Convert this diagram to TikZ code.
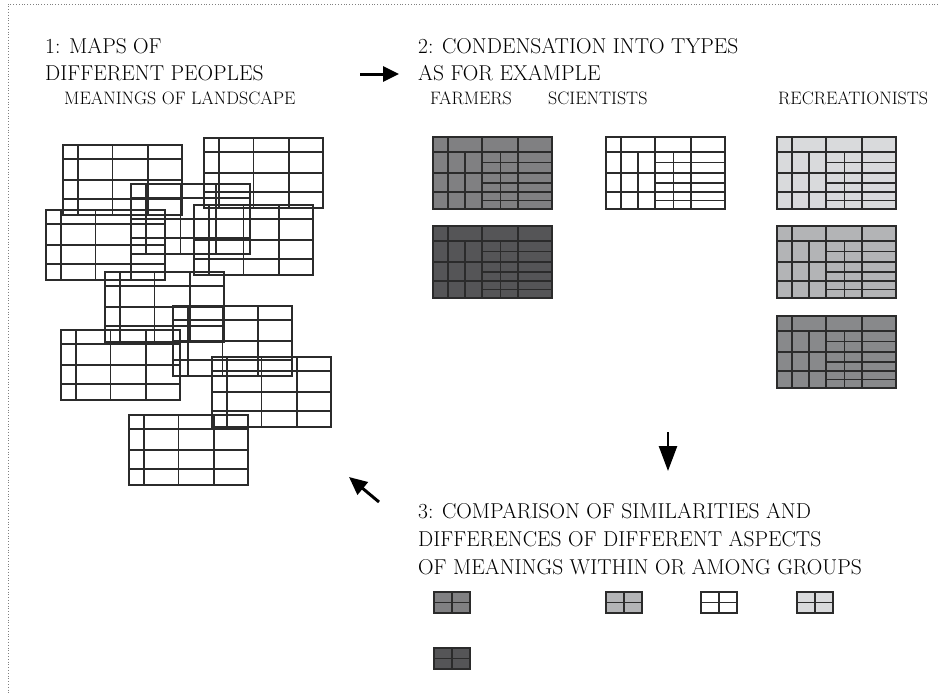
\documentclass[tikz,border=0pt]{standalone}
\usetikzlibrary{arrows.meta}

\definecolor{gridink}{HTML}{2B2B2B}
\definecolor{farmmid}{HTML}{808082}
\definecolor{farmdark}{HTML}{555557}
\definecolor{reclight}{HTML}{D9DADC}
\definecolor{recmid}{HTML}{B3B4B6}
\definecolor{recdark}{HTML}{88898B}

\tikzset{
  gridline/.style={draw=gridink, line width=1.2pt},
  heading/.style={anchor=base west, inner sep=0pt, font=\fontsize{21.5}{25}\selectfont},
  subheading/.style={anchor=base west, inner sep=0pt, font=\fontsize{18}{21}\selectfont},
  flow/.style={line width=3pt, -{Triangle[length=16pt,width=15pt]}},
  frame/.style={draw=gray, dotted, line width=0.8pt}
}

% one person's map of meanings (top left corner x, y)
\newcommand{\mapgrid}[2]{%
  \begin{scope}[shift={(#1,#2)}]
    \draw[gridline] (0,0) rectangle (119,70);
    \foreach \cx in {15,49.5,85} \draw[gridline] (\cx,0) -- (\cx,70);
    \foreach \ry in {14,35,54} \draw[gridline] (0,\ry) -- (119,\ry);
  \end{scope}}

% condensed type (top left corner x, y, fill colour)
\newcommand{\typegrid}[3]{%
  \begin{scope}[shift={(#1,#2)}]
    \fill[#3] (0,0) rectangle (119,72);
    \foreach \cx in {15,49,85} \draw[gridline] (\cx,0) -- (\cx,72);
    \foreach \cx in {32,67.5} \draw[gridline] (\cx,15) -- (\cx,72);
    \foreach \ry in {15,36,55} \draw[gridline] (0,\ry) -- (119,\ry);
    \foreach \ry in {25.5,46,63.5} \draw[gridline] (49,\ry) -- (119,\ry);
    \draw[gridline] (0,0) rectangle (119,72);
  \end{scope}}

% small aspect grid (top left corner x, y, fill colour)
\newcommand{\aspectgrid}[3]{%
  \begin{scope}[shift={(#1,#2)}]
    \fill[#3] (0,0) rectangle (36,21);
    \draw[gridline] (18,0) -- (18,21);
    \draw[gridline] (0,10.5) -- (36,10.5);
    \draw[gridline] (0,0) rectangle (36,21);
  \end{scope}}

\begin{document}
\begin{tikzpicture}[x=1pt, y=-1pt]
  \useasboundingbox (0,0) rectangle (938,694);

  % frame
  \coordinate (frametop) at (938,4);
  \coordinate (framecorner) at (8,4);
  \coordinate (framebottom) at (8,694);
  \draw[frame] (frametop) -- (framecorner) -- (framebottom);

  % headings
  \node[heading] (mapsa) at (45,53) {1: MAPS OF};
  \node[heading] (mapsb) at (45,80) {DIFFERENT PEOPLES};
  \node[subheading] (mapsc) at (64,104) {MEANINGS OF LANDSCAPE};
  \node[heading] (typesa) at (418,53) {2: CONDENSATION INTO TYPES};
  \node[heading] (typesb) at (418,80) {AS FOR EXAMPLE};
  \node[subheading] (farmers) at (430,104) {FARMERS};
  \node[subheading] (scientists) at (548,104) {SCIENTISTS};
  \node[subheading] (recreation) at (778,104) {RECREATIONISTS};
  \node[heading] (compa) at (418,518) {3: COMPARISON OF SIMILARITIES AND};
  \node[heading] (compb) at (418,546) {DIFFERENCES OF DIFFERENT ASPECTS};
  \node[heading] (compc) at (418,574) {OF MEANINGS WITHIN OR AMONG GROUPS};

  % individual maps
  \mapgrid{63}{145}
  \mapgrid{204}{138}
  \mapgrid{131}{184}
  \mapgrid{46}{210}
  \mapgrid{194}{205}
  \mapgrid{105}{272}
  \mapgrid{173}{306}
  \mapgrid{61}{330}
  \mapgrid{212}{357}
  \mapgrid{129}{415}

  % types
  \typegrid{433}{137}{farmmid}
  \typegrid{433}{226}{farmdark}
  \typegrid{606}{137}{white}
  \typegrid{777}{137}{reclight}
  \typegrid{777}{226}{recmid}
  \typegrid{777}{316}{recdark}

  % aspects
  \aspectgrid{434}{592}{farmmid}
  \aspectgrid{434}{648}{farmdark}
  \aspectgrid{606}{592}{recmid}
  \aspectgrid{701}{592}{white}
  \aspectgrid{797}{592}{reclight}

  % flow arrows
  \coordinate (rightfrom) at (360,74);
  \coordinate (rightto) at (399,74);
  \coordinate (downfrom) at (668,432);
  \coordinate (downto) at (668,471);
  \coordinate (backfrom) at (379,502);
  \coordinate (backto) at (349,477);
  \draw[flow] (rightfrom) -- (rightto);
  \draw[flow, line width=2.5pt, -{Triangle[length=25pt,width=18pt]}] (downfrom) -- (downto);
  \draw[flow, -{Triangle[length=18pt,width=16pt]}] (backfrom) -- (backto);
\end{tikzpicture}
\end{document}
